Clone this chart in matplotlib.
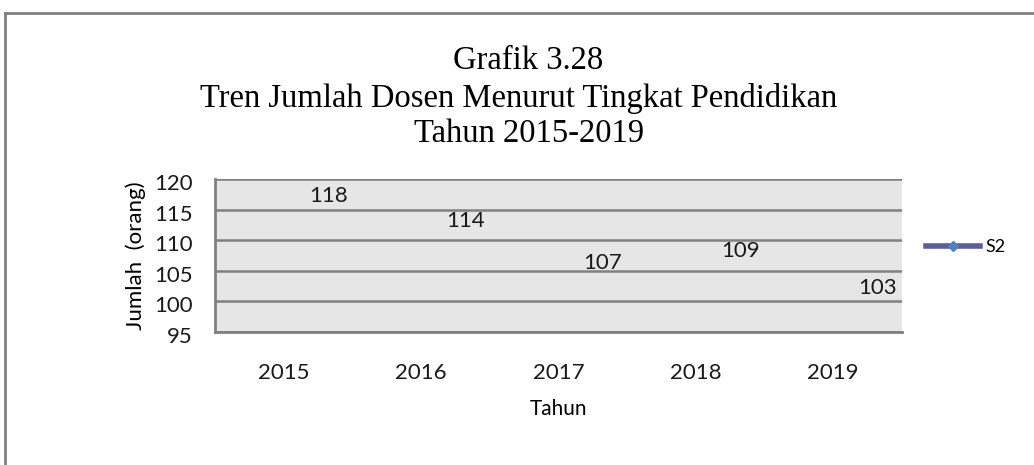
import matplotlib.pyplot as plt
import matplotlib.transforms as mtransforms
from matplotlib.lines import Line2D

# Data
tahun = ['2015', '2016', '2017', '2018', '2019']
s2 = [118, 114, 107, 109, 103]
y_ticks = [95, 100, 105, 110, 115, 120]
judul = ['Grafik 3.28', 'Tren Jumlah Dosen Menurut Tingkat Pendidikan', 'Tahun 2015-2019']

plt.rcParams['font.family'] = ['Lato', 'DejaVu Sans']

fig = plt.figure(figsize=(10.34, 4.65), dpi=100)
ax = fig.add_axes([0.208, 0.286, 0.664, 0.329])

# Series: the reference shows only the data labels, no visible line
x = list(range(len(tahun)))
ax.plot(x, s2, linestyle='none', marker='none')
for xi, v in zip(x, s2):
    ax.annotate(str(v), (xi, v), xytext=(32, -3.5), textcoords='offset points',
                ha='center', va='center', fontsize=16, color='#1a1a1a')

ax.set_xlim(-0.5, 4.5)
ax.set_ylim(95, 120)
ax.set_xticks(x)
ax.set_xticklabels(tahun)
ax.set_yticks(y_ticks)

ax.set_facecolor('#e6e6e6')
ax.grid(True, axis='y', color='#808080', linewidth=1.8)
ax.set_axisbelow(True)
for side in ['top', 'right']:
    ax.spines[side].set_visible(False)
for side in ['left', 'bottom']:
    ax.spines[side].set_color('#808080')
    ax.spines[side].set_linewidth(2)

ax.tick_params(axis='both', length=0, labelsize=16, colors='#1a1a1a')
ax.tick_params(axis='x', pad=22)
ax.tick_params(axis='y', pad=16)
shift = mtransforms.ScaledTranslation(0, -3 / 100, fig.dpi_scale_trans)
for lab in ax.get_yticklabels():
    lab.set_transform(lab.get_transform() + shift)

ax.set_xlabel('Tahun', fontsize=15, labelpad=12)
ax.set_ylabel('Jumlah  (orang)', fontsize=16, labelpad=6)

# Title, one line at a time
title_y = [69, 107, 142]
title_x = [528, 519, 529]
for teks, ty, tx in zip(judul, title_y, title_x):
    fig.text(tx / 1034, 1 - ty / 465, teks, ha='center', va='baseline',
             fontsize=23.5, family='Liberation Serif', color='#000000')

# Legend
handle = Line2D([0], [0], color='#5b5f97', linewidth=4, marker='D',
                markersize=5, markerfacecolor='#4f81bd', markeredgecolor='#4f81bd')
fig.legend([handle], ['S2'], loc='center left', bbox_to_anchor=(0.88, 0.468),
           frameon=False, fontsize=13, handlelength=3.0, handletextpad=0.3)

# Outer chart frame
fig.add_artist(Line2D([0.005, 1.0], [0.972, 0.972], color='#808080', linewidth=2,
                      transform=fig.transFigure))
fig.add_artist(Line2D([0.005, 0.005], [0.0, 0.972], color='#808080', linewidth=2,
                      transform=fig.transFigure))

plt.savefig('out.png', dpi=100)
